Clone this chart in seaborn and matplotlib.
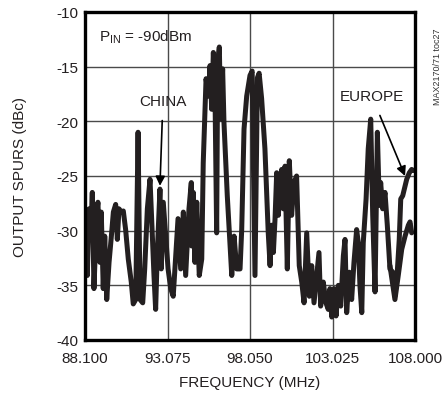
import matplotlib
matplotlib.use("Agg")
import matplotlib.pyplot as plt
import seaborn as sns
import pandas as pd

# Output spur level across the FM band (MHz, dBc)
freq_mhz = [
    88.14, 88.24, 88.34, 88.44, 88.54, 88.64, 88.81, 88.88, 89.00, 89.08,
    89.20, 89.29, 89.41, 89.55, 89.69, 89.81, 89.95, 90.05, 90.15, 90.29,
    90.41, 90.55, 90.71, 90.89, 91.01, 91.16, 91.30, 91.42, 91.58, 91.70,
    91.86, 92.02, 92.16, 92.26, 92.36, 92.46, 92.62, 92.70, 92.82, 92.97,
    93.11, 93.27, 93.42, 93.57, 93.71, 93.87, 94.03, 94.17, 94.37, 94.51,
    94.53, 94.63, 94.73, 94.84, 94.99, 95.14, 95.23, 95.40, 95.54, 95.64,
    95.74, 95.84, 95.94, 96.04, 96.10, 96.20, 96.28, 96.40, 96.48, 96.68,
    96.95, 97.09, 97.25, 97.45, 97.55, 97.69, 97.85, 98.05, 98.18, 98.35,
    98.50, 98.60, 98.75, 98.95, 99.15, 99.26, 99.36, 99.46, 99.56, 99.66,
    99.76, 99.86, 99.96, 100.06, 100.16, 100.30, 100.42, 100.56, 100.70, 100.86,
    101.02, 101.17, 101.31, 101.47, 101.63, 101.77, 101.91, 102.07, 102.21, 102.31,
    102.47, 102.63, 102.77, 102.87, 102.98, 103.12, 103.24, 103.38, 103.52, 103.68,
    103.78, 103.88, 104.04, 104.18, 104.32, 104.48, 104.58, 104.68, 104.79, 104.88,
    105.05, 105.18, 105.33, 105.45, 105.59, 105.73, 105.85, 105.93, 106.05, 106.19,
    106.33, 106.49, 106.66, 106.79, 106.93, 107.05, 107.14, 107.26, 107.40, 107.50,
    107.66, 107.80, 107.90,
]
spur_dbc = [
    -28.3, -34.1, -28.0, -30.5, -26.5, -35.3, -28.3, -27.4, -32.9, -28.3,
    -35.3, -30.5, -36.3, -32.9, -30.5, -28.3, -27.6, -30.8, -28.0, -28.3,
    -28.2, -29.9, -32.6, -34.7, -36.7, -36.3, -21.0, -36.3, -36.6, -33.5,
    -28.0, -25.3, -30.5, -34.1, -37.2, -32.0, -26.2, -33.5, -27.4, -30.5,
    -33.5, -35.3, -36.0, -32.3, -28.9, -33.5, -28.3, -34.1, -28.0, -25.6,
    -31.4, -26.5, -32.9, -27.4, -34.1, -32.6, -23.8, -16.1, -17.7, -14.9,
    -18.9, -13.7, -17.7, -30.2, -14.6, -13.2, -19.8, -15.2, -20.1, -26.8,
    -34.1, -30.5, -33.5, -33.5, -29.9, -20.7, -17.7, -15.8, -15.4, -34.1,
    -16.0, -15.6, -17.9, -22.5, -30.2, -33.2, -29.5, -32.0, -28.9, -24.7,
    -28.6, -25.9, -24.4, -28.0, -24.1, -33.5, -23.6, -28.6, -25.6, -25.0,
    -33.2, -34.7, -36.6, -30.2, -36.0, -33.2, -36.6, -34.1, -32.0, -36.9,
    -34.7, -36.6, -37.2, -35.3, -37.9, -35.3, -37.8, -35.0, -36.9, -32.3,
    -30.8, -37.5, -33.8, -36.3, -32.9, -29.9, -31.1, -35.0, -37.5, -31.1,
    -27.1, -22.5, -19.8, -28.6, -35.6, -21.0, -27.7, -25.6, -28.0, -26.5,
    -29.5, -33.5, -33.8, -36.0, -33.8, -30.8, -27.1, -26.8, -25.9, -25.3,
    -24.7, -24.4, -24.5,
]

# Lower branch of the overlapping sweep at the top of the band
freq_tail_mhz = [106.49, 106.79, 106.99, 107.20, 107.40, 107.60, 107.70, 107.80]
spur_tail_dbc = [-33.2, -36.3, -34.1, -31.7, -30.5, -29.5, -29.2, -30.2]

x_ticks = [88.100, 93.075, 98.050, 103.025, 108.000]
x_tick_labels = ["88.100", "93.075", "98.050", "103.025", "108.000"]
y_ticks = [-40, -35, -30, -25, -20, -15, -10]
y_tick_labels = ["-40", "-35", "-30", "-25", "-20", "-15", "-10"]

sns.set_theme(style="white")
plt.rcParams["font.family"] = ["Liberation Sans", "DejaVu Sans"]
plt.rcParams["mathtext.fontset"] = "custom"
plt.rcParams["mathtext.rm"] = "Liberation Sans"

ink = "#231f20"
txt = "#231f20"
fs = 11

fig = plt.figure(figsize=(4.43, 4.02), dpi=100)
ax = fig.add_axes([85 / 443, 1 - 341 / 402, 330 / 443, 328 / 402])

main = pd.DataFrame({"freq": freq_mhz, "spur": spur_dbc})
tail = pd.DataFrame({"freq": freq_tail_mhz, "spur": spur_tail_dbc})
for df in (main, tail):
    sns.lineplot(data=df, x="freq", y="spur", sort=False, estimator=None,
                 color=ink, linewidth=3.6, ax=ax, zorder=3,
                 solid_joinstyle="round", solid_capstyle="round")

ax.set_xlim(88.1, 108.0)
ax.set_ylim(-40, -10)
ax.set_xticks(x_ticks)
ax.set_xticklabels(x_tick_labels)
ax.set_yticks(y_ticks)
ax.set_yticklabels(y_tick_labels)
ax.tick_params(axis="both", length=0, labelsize=fs, colors=txt)
ax.tick_params(axis="x", pad=8)
ax.tick_params(axis="y", pad=5)
ax.grid(True, color="#4a4a4a", linewidth=1.0, zorder=1)
for s in ax.spines.values():
    s.set_visible(True)
    s.set_color("black")
    s.set_linewidth(2.4)
    s.set_zorder(4)

ax.set_xlabel("FREQUENCY (MHz)", fontsize=fs, color=txt)
ax.set_ylabel("OUTPUT SPURS (dBc)", fontsize=fs, color=txt)
ax.xaxis.set_label_coords(0.5, -0.107)
ax.yaxis.set_label_coords(-0.176, 0.5)

ax.text(88.95, -12.2, r"P$_{\mathrm{IN}}$ = -90dBm", fontsize=fs, color=txt,
        va="center", ha="left")

ax.annotate("CHINA", xy=(92.62, -25.9), xytext=(92.8, -18.1),
            fontsize=fs, color=txt, ha="center", va="center",
            arrowprops=dict(arrowstyle="-|>", color="black", lw=1.2,
                            shrinkA=7, shrinkB=0, mutation_scale=14))
ax.annotate("EUROPE", xy=(107.4, -25.0), xytext=(105.4, -17.7),
            fontsize=fs, color=txt, ha="center", va="center",
            arrowprops=dict(arrowstyle="-|>", color="black", lw=1.2,
                            shrinkA=7, shrinkB=0, mutation_scale=14))

fig.text(437 / 443, 1 - 67 / 402, "MAX2170/71 toc27", rotation=90, fontsize=6.5,
         color="#333333", ha="center", va="center")

fig.savefig("out.png", dpi=100)
